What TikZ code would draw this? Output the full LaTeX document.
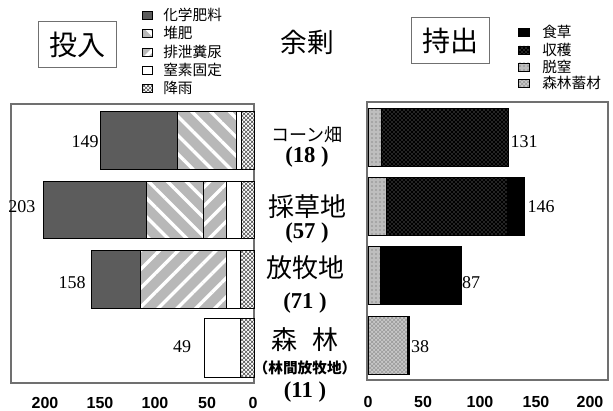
\documentclass[tikz,border=0pt]{standalone}
\usepackage{fontspec}
\setmainfont{Liberation Serif}
\newfontfamily\jp{Noto Sans CJK JP}
\newfontfamily\ax{Liberation Sans}
\usetikzlibrary{patterns,patterns.meta}
\definecolor{chem}{HTML}{5C5C5C}
\definecolor{comp}{HTML}{B8B8B8}
\definecolor{denit}{HTML}{BEBEBE}
\definecolor{wood}{HTML}{C8C8C8}
\definecolor{frame}{HTML}{707070}

\tikzset{
  chemseg/.style={fill=chem, draw=black, line width=0.5pt},
  compseg/.style={preaction={fill=comp}, pattern={Lines[angle=-45,distance=10pt,line width=2.5pt]}, pattern color=white, draw=black, line width=0.5pt},
  excrseg/.style={preaction={fill=comp}, pattern={Lines[angle=45,distance=10pt,line width=2.5pt]}, pattern color=white, draw=black, line width=0.5pt},
  nfixseg/.style={fill=white, draw=black, line width=0.5pt},
  rainseg/.style={preaction={fill=white}, pattern=crosshatch, pattern color=black!70, draw=black, line width=0.5pt},
  grazeseg/.style={fill=black, draw=black, line width=0.5pt},
  harvseg/.style={preaction={fill=black}, pattern=crosshatch dots, pattern color=gray!75, draw=black, line width=0.5pt},
  denitseg/.style={preaction={fill=denit}, pattern=dots, pattern color=gray!70!black, draw=black, line width=0.5pt},
  woodseg/.style={preaction={fill=wood}, pattern=crosshatch, pattern color=gray!80, draw=black, line width=0.5pt},
  legtext/.style={anchor=west, font=\jp\fontsize{11}{11}\selectfont, inner sep=0pt},
  title/.style={draw=frame, line width=0.8pt, font=\jp\fontsize{21}{21}\selectfont, minimum height=34pt},
  val/.style={font=\fontsize{13.5}{14}\selectfont, inner sep=0pt},
  tick/.style={font=\ax\bfseries\fontsize{12}{12}\selectfont, inner sep=0pt},
  crop/.style={font=\jp\fontsize{19.5}{20}\selectfont, inner sep=0pt},
  surp/.style={font=\bfseries\fontsize{17}{17}\selectfont, inner sep=0pt}
}

\begin{document}
\begin{tikzpicture}[x=0.75pt,y=-0.75pt]
\useasboundingbox (0,0) rectangle (613,410);

% titles
\node[title, minimum width=59pt] (inbox) at (77.5,44.5) {投入};
\node[title, minimum width=58pt] (outbox) at (450.5,40.5) {持出};
\node[font=\jp\fontsize{20}{20}\selectfont, inner sep=0pt] (surplus) at (307,42) {余剰};

% input legend
\draw[chemseg] (142,11) rectangle (152,19);
\draw[compseg] (142,29) rectangle (152,37);
\draw[excrseg] (142,48) rectangle (152,56);
\draw[nfixseg] (142,66) rectangle (152,74);
\draw[rainseg] (142,84) rectangle (152,92);
\node[legtext] (lchem) at (163,15) {化学肥料};
\node[legtext] (lcomp) at (163,33) {堆肥};
\node[legtext] (lexcr) at (163,52) {排泄糞尿};
\node[legtext] (lnfix) at (163,70) {窒素固定};
\node[legtext] (lrain) at (163,88) {降雨};

% output legend
\draw[grazeseg] (518,28) rectangle (529,36);
\draw[harvseg] (518,46) rectangle (529,54);
\draw[denitseg] (518,63) rectangle (529,71);
\draw[woodseg] (518,79) rectangle (529,87);
\node[legtext] (lgraze) at (542,32) {食草};
\node[legtext] (lharv) at (542,50) {収穫};
\node[legtext] (ldenit) at (542,67) {脱窒};
\node[legtext] (lwood) at (542,83) {森林蓄材};

% frames
\draw[frame, line width=0.8pt] (11,104) rectangle (254,383);
\draw[frame, line width=0.8pt] (367,102) rectangle (608,380);

% input bars
\draw[chemseg] (100,111) rectangle (177,169);
\draw[compseg] (177,111) rectangle (236,169);
\draw[nfixseg] (236,111) rectangle (241,169);
\draw[rainseg] (241,111) rectangle (254,169);

\draw[chemseg] (43,181) rectangle (146,238);
\draw[compseg] (146,181) rectangle (203,238);
\draw[excrseg] (203,181) rectangle (226,238);
\draw[nfixseg] (226,181) rectangle (241,238);
\draw[rainseg] (241,181) rectangle (254,238);

\draw[chemseg] (91,250) rectangle (140,308);
\draw[excrseg] (140,250) rectangle (226,308);
\draw[nfixseg] (226,250) rectangle (240,308);
\draw[rainseg] (240,250) rectangle (254,308);

\draw[nfixseg] (204,318) rectangle (240,377);
\draw[rainseg] (240,318) rectangle (254,377);

\node[val] (in1) at (85,142) {149};
\node[val] (in2) at (22,207) {203};
\node[val] (in3) at (72,283) {158};
\node[val] (in4) at (182,347) {49};

% output bars
\draw[denitseg] (368,108) rectangle (381,166);
\draw[harvseg] (381,108) rectangle (508,166);

\draw[denitseg] (368,177) rectangle (386,235);
\draw[harvseg] (386,177) rectangle (507,235);
\draw[grazeseg] (507,177) rectangle (524,235);

\draw[denitseg] (368,246) rectangle (380,304);
\draw[grazeseg] (380,246) rectangle (461,304);

\draw[woodseg] (368,316) rectangle (407,374);
\draw[grazeseg] (407,316) rectangle (409,374);

\node[val] (out1) at (524,142) {131};
\node[val] (out2) at (541,207) {146};
\node[val] (out3) at (471,283) {87};
\node[val] (out4) at (420,347) {38};

% crop names and surplus
\node[font=\jp\fontsize{13.5}{14}\selectfont, inner sep=0pt] (corn) at (307,135) {コーン畑};
\node[surp] (s1) at (307,157) {(18 )};
\node[crop] (hay) at (307,207) {採草地};
\node[surp] (s2) at (307,233) {(57 )};
\node[crop] (past) at (305,268) {放牧地};
\node[surp] (s3) at (305,303) {(71 )};
\node[crop] (forest) at (305,340) {森\hspace{0.6em}林};
\node[font=\jp\bfseries\fontsize{11}{11}\selectfont, inner sep=0pt] (sub) at (305,368) {（林間放牧地）};
\node[surp] (s4) at (305,392) {(11 )};

% axes
\node[tick] (l200) at (45,403) {200};
\node[tick] (l150) at (100,403) {150};
\node[tick] (l100) at (155,403) {100};
\node[tick] (l50) at (207,403) {50};
\node[tick] (l0) at (253,403) {0};
\node[tick] (r0) at (368,402) {0};
\node[tick] (r50) at (423,402) {50};
\node[tick] (r100) at (480,402) {100};
\node[tick] (r150) at (536,402) {150};
\node[tick] (r200) at (590,402) {200};
\end{tikzpicture}
\end{document}
